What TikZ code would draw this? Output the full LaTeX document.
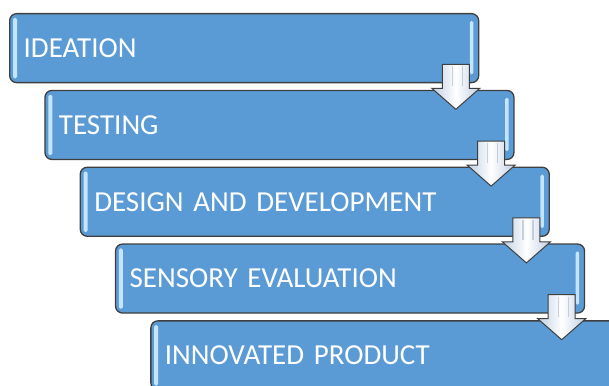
\documentclass[tikz,border=0pt]{standalone}
\usepackage{fontspec}
\setmainfont{Carlito}
\usetikzlibrary{calc}

\definecolor{stagefill}{HTML}{5B9BD5}
\definecolor{stageedge}{HTML}{3F3F3F}
\definecolor{glint}{HTML}{C4E4FF}
\definecolor{arrowtint}{HTML}{BFCFE3}
\definecolor{arrowstripe}{HTML}{A9B6C6}

\tikzset{
  stagebox/.style={draw=stageedge, line width=1.3pt, fill=stagefill,
    rounded corners=7pt, anchor=north west,
    minimum width=469pt, minimum height=69pt, text width=441pt,
    inner xsep=13pt, inner ysep=0pt, align=left, text=white,
    font=\fontsize{29}{32}\selectfont},
  glintbar/.style={fill=glint, rounded corners=1.5pt, draw=none},
  downarrow/.style={draw=stageedge, line width=1pt, line join=miter,
    left color=arrowtint, right color=arrowtint, middle color=white},
  shaftstripe/.style={draw=arrowstripe, line width=1.2pt, opacity=0.6}
}

\begin{document}
\begin{tikzpicture}[x=1pt, y=-1pt]
  \useasboundingbox (0,0) rectangle (609,385);
  \clip (0,0) rectangle (609,385);

  % the five stages, stepping down to the right
  \node[stagebox] (b1) at (9,13)       {IDEATION};
  \node[stagebox] (b2) at (44.3,89.8)  {TESTING};
  \node[stagebox] (b3) at (79.6,166.6) {DESIGN AND DEVELOPMENT};
  \node[stagebox] (b4) at (114.9,243.4){SENSORY EVALUATION};
  \node[stagebox] (b5) at (150.2,320.2){INNOVATED PRODUCT};

  % glossy edge highlights
  \foreach \i in {1,...,5} {
    \fill[glintbar] ($(b\i.north west)+(4,5)$) rectangle ($(b\i.south west)+(8,-5)$);
    \fill[glintbar] ($(b\i.north east)+(-9.5,8)$) rectangle ($(b\i.south east)+(-6,-9)$);
  }

  % block arrows linking each stage to the next
  \foreach \i in {1,...,4} {
    \draw[downarrow]
      ($(b\i.south east)+(-37,-19)$) -- ++(27,0) -- ++(0,24) -- ++(10.5,0)
      -- ($(b\i.south east)+(-23.5,26)$)
      -- ($(b\i.south east)+(-47.5,5)$) -- ++(10.5,0) -- cycle;
    \draw[shaftstripe] ($(b\i.south east)+(-27,-17)$) -- ++(0,20);
    \draw[shaftstripe] ($(b\i.south east)+(-17,-17)$) -- ++(0,20);
  }
\end{tikzpicture}
\end{document}
